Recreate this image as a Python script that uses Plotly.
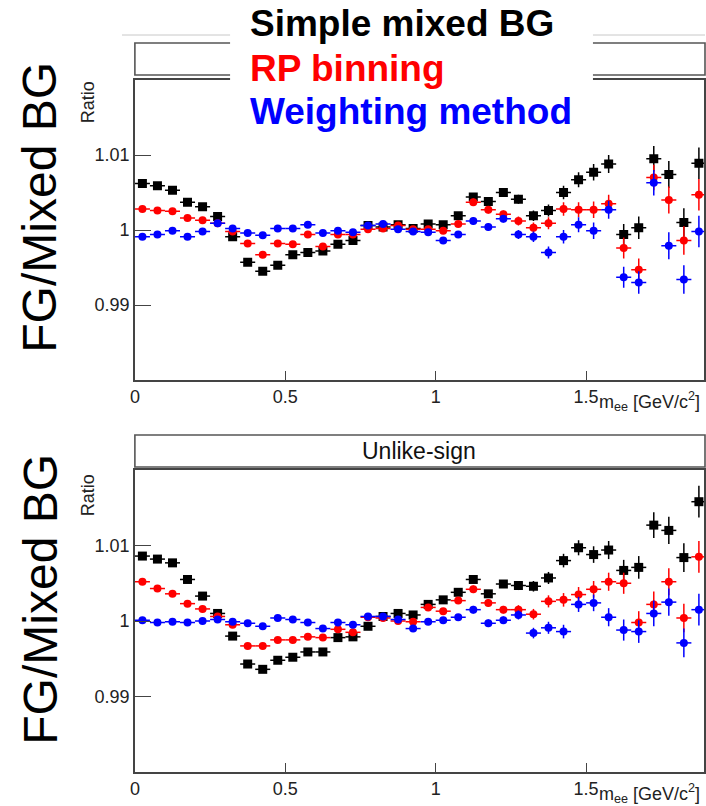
import plotly.graph_objects as go

# Invariant-mass bin centres (GeV/c^2), 0.05 wide bins from 0 to 1.9
mass = [0.025, 0.075, 0.125, 0.175, 0.225, 0.275, 0.325, 0.375, 0.425, 0.475,
        0.525, 0.575, 0.625, 0.675, 0.725, 0.775, 0.825, 0.875, 0.925, 0.975,
        1.025, 1.075, 1.125, 1.175, 1.225, 1.275, 1.325, 1.375, 1.425, 1.475,
        1.525, 1.575, 1.625, 1.675, 1.725, 1.775, 1.825, 1.875]
half_bin = 0.025

# Upper panel (like-sign) FG / mixed BG ratios
like_simple = [1.0062, 1.0059, 1.0053, 1.0037, 1.0031, 1.0018, 0.9991, 0.9957, 0.9945, 0.9953,
               0.9967, 0.9970, 0.9972, 0.9981, 0.9986, 1.0006, 1.0004, 1.0007, 1.0002, 1.0008,
               1.0007, 1.0019, 1.0044, 1.0038, 1.0050, 1.0041, 1.0019, 1.0026, 1.0050, 1.0067,
               1.0077, 1.0088, 0.9994, 1.0003, 1.0095, 1.0074, 1.0010, 1.0089]
like_rp = [1.0028, 1.0026, 1.0025, 1.0016, 1.0013, 1.0009, 0.9998, 0.9982, 0.9967, 0.9982,
           0.9981, 0.9994, 0.9978, 0.9994, 0.9994, 1.0001, 1.0002, 1.0006, 1.0001, 1.0001,
           0.9999, 1.0008, 1.0037, 1.0027, 1.0021, 1.0012, 1.0003, 1.0009, 1.0028, 1.0027,
           1.0027, 1.0035, 0.9976, 0.9947, 1.0070, 1.0040, 0.9986, 1.0047]
like_weight = [0.9991, 0.9994, 0.9999, 0.9991, 0.9998, 1.0009, 1.0002, 0.9996, 0.9993, 1.0002,
               1.0002, 1.0007, 0.9996, 0.9999, 0.9997, 1.0006, 1.0008, 1.0001, 0.9998, 0.9997,
               0.9986, 0.9994, 1.0012, 1.0004, 1.0015, 0.9994, 0.9991, 0.9970, 0.9991, 1.0007,
               0.9999, 1.0027, 0.9937, 0.9930, 1.0063, 0.9979, 0.9934, 0.9998]
like_err = [0.0002, 0.0002, 0.0002, 0.0002, 0.0002, 0.0002, 0.0002, 0.0002, 0.00025, 0.00025,
            0.00025, 0.00025, 0.00025, 0.00025, 0.00025, 0.00025, 0.0003, 0.0003, 0.0003, 0.0003,
            0.0004, 0.0004, 0.0005, 0.0005, 0.0005, 0.0006, 0.0007, 0.0008, 0.0009, 0.0010,
            0.0011, 0.0012, 0.0014, 0.0015, 0.0017, 0.0018, 0.0019, 0.0021]

# Lower panel (unlike-sign) FG / mixed BG ratios
unlike_simple = [1.0086, 1.0082, 1.0077, 1.0055, 1.0033, 1.0010, 0.9980, 0.9943, 0.9936, 0.9948,
                 0.9952, 0.9959, 0.9959, 0.9978, 0.9979, 0.9993, 1.0006, 1.0010, 1.0008, 1.0022,
                 1.0028, 1.0038, 1.0055, 1.0036, 1.0049, 1.0047, 1.0046, 1.0057, 1.0080, 1.0097,
                 1.0088, 1.0094, 1.0067, 1.0071, 1.0127, 1.0120, 1.0084, 1.0158]
unlike_rp = [1.0052, 1.0043, 1.0036, 1.0023, 1.0016, 1.0006, 0.9995, 0.9967, 0.9967, 0.9975,
             0.9975, 0.9979, 0.9978, 0.9989, 0.9985, 1.0005, 1.0004, 1.0000, 0.9999, 1.0018,
             1.0013, 1.0027, 1.0042, 1.0024, 1.0015, 1.0015, 1.0009, 1.0026, 1.0028, 1.0035,
             1.0042, 1.0052, 1.0050, 0.9998, 1.0022, 1.0052, 1.0004, 1.0085]
unlike_weight = [1.0001, 0.9998, 0.9999, 0.9998, 1.0000, 1.0002, 0.9999, 0.9997, 0.9993, 1.0004,
                 1.0002, 0.9998, 0.9990, 0.9998, 0.9995, 1.0006, 1.0006, 1.0002, 0.9990, 0.9999,
                 1.0001, 1.0005, 1.0015, 0.9997, 1.0001, 1.0008, 0.9984, 0.9991, 0.9986, 1.0022,
                 1.0024, 1.0005, 0.9988, 0.9986, 1.0010, 1.0025, 0.9971, 1.0015]
unlike_err = [0.0002, 0.0002, 0.0002, 0.0002, 0.0002, 0.0002, 0.0002, 0.0002, 0.00025, 0.00025,
              0.00025, 0.00025, 0.00025, 0.00025, 0.00025, 0.00025, 0.0003, 0.0003, 0.0003, 0.0003,
              0.0004, 0.0004, 0.0005, 0.0005, 0.0005, 0.0006, 0.0007, 0.0008, 0.0009, 0.0010,
              0.0011, 0.0012, 0.0014, 0.0015, 0.0017, 0.0018, 0.0019, 0.0021]

method_names = ["Simple mixed BG", "RP binning", "Weighting method"]
method_colors = ["#000000", "#ff0000", "#0000ff"]
method_symbols = ["square", "circle", "circle"]
marker_sizes = [9, 8, 8]

tick_vals_x = [0, 0.5, 1, 1.5]
tick_text_x = ["0", "0.5", "1", "1.5"]
tick_vals_y = [0.99, 1.0, 1.01]
tick_text_y = ["0.99", "1", "1.01"]

W, H = 706, 806
FONT = "Liberation Sans, Arial, sans-serif"


def px(x):
    return x / W


def py(y):
    return 1 - y / H


fig = go.Figure()

panels = [
    ("x", "y", [like_simple, like_rp, like_weight], like_err),
    ("x2", "y2", [unlike_simple, unlike_rp, unlike_weight], unlike_err),
]
for xa, ya, series, err in panels:
    for name, vals, col, sym, ms in zip(method_names, series, method_colors,
                                        method_symbols, marker_sizes):
        fig.add_trace(go.Scatter(
            x=mass, y=vals, mode="markers", name=name, showlegend=False,
            xaxis=xa, yaxis=ya,
            marker=dict(symbol=sym, size=ms, color=col, line=dict(width=0)),
            error_x=dict(type="constant", value=half_bin, width=0, thickness=1.5, color=col),
            error_y=dict(type="data", array=err, width=0, thickness=1.5, color=col),
        ))

x_dom = [px(131), px(705)]
common_x = dict(range=[0, 1.892], tickvals=tick_vals_x, ticktext=tick_text_x,
                ticks="inside", ticklen=9, tickwidth=1.3, tickcolor="#444",
                showline=True, mirror=True, linecolor="#444", linewidth=1.5,
                showgrid=False, zeroline=False,
                tickfont=dict(family=FONT, size=18, color="#222"))
common_y = dict(range=[0.98, 1.02], tickvals=tick_vals_y, ticktext=tick_text_y,
                ticks="inside", ticklen=16, tickwidth=1.3, tickcolor="#444",
                showline=True, mirror=True, linecolor="#444", linewidth=1.5,
                showgrid=False, zeroline=False,
                tickfont=dict(family=FONT, size=18, color="#222"))

fig.update_layout(
    width=W, height=H,
    margin=dict(l=0, r=0, t=0, b=0),
    paper_bgcolor="white", plot_bgcolor="white",
    xaxis=dict(domain=x_dom, anchor="y", **common_x),
    yaxis=dict(domain=[py(380), py(80)], anchor="x", **common_y),
    xaxis2=dict(domain=x_dom, anchor="y2", **common_x),
    yaxis2=dict(domain=[py(772), py(470)], anchor="x2", **common_y),
)

# Canvas rule, panel title boxes and the white backing of the method key
shapes = [
    dict(type="line", xref="paper", yref="paper", x0=px(118), x1=1, y0=py(35), y1=py(35),
         line=dict(color="#c8c8c8", width=1)),
    dict(type="rect", xref="paper", yref="paper", x0=px(131), x1=px(706), y0=py(75), y1=py(43),
         line=dict(color="#555", width=1.6), fillcolor="rgba(0,0,0,0)"),
    dict(type="rect", xref="paper", yref="paper", x0=px(131), x1=px(706), y0=py(467), y1=py(435),
         line=dict(color="#555", width=1.6), fillcolor="rgba(0,0,0,0)"),
    dict(type="rect", xref="paper", yref="paper", x0=px(227), x1=px(593), y0=py(135), y1=py(0),
         line=dict(width=0), fillcolor="white", layer="above"),
]
fig.update_layout(shapes=shapes)

ann = []
# Method key
for i, (name, col) in enumerate(zip(method_names, method_colors)):
    ann.append(dict(text=f"<b>{name}</b>", xref="paper", yref="paper",
                    x=px(245), y=py(24 + 44 * i), xanchor="left", yanchor="middle",
                    showarrow=False, font=dict(family=FONT, size=37, color=col)))

for cy_fg, cy_ratio, cy_mee in [(207, 102, 401), (599, 495, 793)]:
    ann.append(dict(text="FG/Mixed BG", xref="paper", yref="paper",
                    x=px(35), y=py(cy_fg), xanchor="center", yanchor="middle",
                    textangle=-90, showarrow=False,
                    font=dict(family=FONT, size=48, color="black")))
    ann.append(dict(text="Ratio", xref="paper", yref="paper",
                    x=px(84), y=py(cy_ratio), xanchor="center", yanchor="middle",
                    textangle=-90, showarrow=False,
                    font=dict(family=FONT, size=18, color="#222")))
    ann.append(dict(text="m<sub>ee</sub> [GeV/c<sup>2</sup>]", xref="paper", yref="paper",
                    x=px(703), y=py(cy_mee), xanchor="right", yanchor="middle",
                    showarrow=False, font=dict(family=FONT, size=18, color="#222")))

ann.append(dict(text="Unlike-sign", xref="paper", yref="paper",
                x=px(418), y=py(451), xanchor="center", yanchor="middle",
                showarrow=False, font=dict(family=FONT, size=23, color="#111")))

fig.update_layout(annotations=ann)

fig.write_html("out.html")
